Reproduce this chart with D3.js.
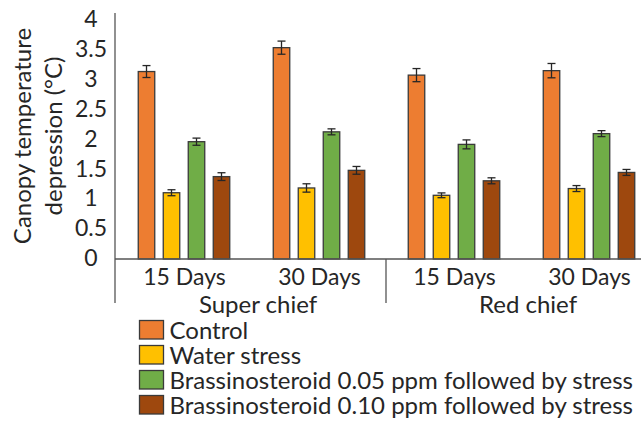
<!DOCTYPE html>
<html>
<head>
<meta charset="utf-8">
<script src="https://cdn.jsdelivr.net/npm/d3@7"></script>
<style>
  body { margin: 0; background: #fff; }
  svg { display: block; font-family: Lato, "Open Sans", sans-serif; }
</style>
</head>
<body>
<div id="chart"></div>
<script>
	var WIDTH = 641;
	var HEIGHT = 421;

	// categories (variety / days after stress)
	var varieties = ["Super chief", "Red chief"];
	var days = ["15 Days", "30 Days"];
	var series = ["Control", "Water stress",
		"Brassinosteroid 0.05 ppm followed by stress",
		"Brassinosteroid 0.10 ppm followed by stress"];
	var colors = ["#ED7D31", "#FFC000", "#70AD47", "#9E480E"];

	// values, order: SC 15, SC 30, RC 15, RC 30
	var control = [3.14, 3.54, 3.08, 3.155];
	var waterStress = [1.11, 1.19, 1.067, 1.18];
	var br005 = [1.965, 2.13, 1.92, 2.10];
	var br010 = [1.38, 1.485, 1.31, 1.45];

	var controlErr = [0.10, 0.11, 0.11, 0.12];
	var waterStressErr = [0.05, 0.07, 0.04, 0.05];
	var br005Err = [0.06, 0.05, 0.075, 0.05];
	var br010Err = [0.065, 0.065, 0.05, 0.05];

	var yTicks = [0, 0.5, 1, 1.5, 2, 2.5, 3, 3.5, 4];

	var values = [control, waterStress, br005, br010];
	var errors = [controlErr, waterStressErr, br005Err, br010Err];

	var groups = [];
	varieties.forEach(function(v){
		days.forEach(function(d){ groups.push(v + "|" + d); });
	});

	var data = [];
	for(var g=0; g<groups.length; g++){
		for(var s=0; s<series.length; s++){
			data.push({group: groups[g], series: series[s], value: values[s][g], err: errors[s][g], color: colors[s]});
		}
	}

	var axisX = 115;
	var baseY = 259;

	var svg = d3.select("#chart").append("svg")
		.attr("width", WIDTH)
		.attr("height", HEIGHT);

	var x0 = d3.scaleBand().domain(groups).range([117, 657]);
	var x1 = d3.scaleBand().domain(series).range([17, 117]);
	var y = d3.scaleLinear().domain([0, 4]).range([baseY, 20.2]);

	var barW = x1.bandwidth() * 0.66;

	// bars
	svg.append("g").selectAll("rect")
		.data(data)
		.enter().append("rect")
		.attr("x", function(d){ return x0(d.group) + x1(d.series) + (x1.bandwidth() - barW)/2; })
		.attr("y", function(d){ return y(d.value); })
		.attr("width", barW)
		.attr("height", function(d){ return baseY - y(d.value); })
		.style("fill", function(d){ return d.color; })
		.style("stroke", "#3a3a3a")
		.style("stroke-width", 1.3);

	// error bars
	var eb = svg.append("g").selectAll("g")
		.data(data)
		.enter().append("g")
		.style("stroke", "#262626")
		.style("stroke-width", 1.3);
	var cx = function(d){ return x0(d.group) + x1(d.series) + x1.bandwidth()/2; };
	eb.append("line")
		.attr("x1", cx).attr("x2", cx)
		.attr("y1", function(d){ return y(d.value + d.err); })
		.attr("y2", function(d){ return y(d.value - d.err); });
	eb.append("line")
		.attr("x1", function(d){ return cx(d) - 4; }).attr("x2", function(d){ return cx(d) + 4; })
		.attr("y1", function(d){ return y(d.value + d.err); })
		.attr("y2", function(d){ return y(d.value + d.err); });
	eb.append("line")
		.attr("x1", function(d){ return cx(d) - 4; }).attr("x2", function(d){ return cx(d) + 4; })
		.attr("y1", function(d){ return y(d.value - d.err); })
		.attr("y2", function(d){ return y(d.value - d.err); });

	// axes lines
	svg.append("line")
		.attr("x1", axisX).attr("x2", axisX)
		.attr("y1", 13).attr("y2", 303)
		.style("stroke", "#555").style("stroke-width", 1.3);
	svg.append("line")
		.attr("x1", axisX).attr("x2", WIDTH)
		.attr("y1", baseY).attr("y2", baseY)
		.style("stroke", "#555").style("stroke-width", 1.3);
	// divider between varieties
	svg.append("line")
		.attr("x1", x0(groups[2]) - 1).attr("x2", x0(groups[2]) - 1)
		.attr("y1", baseY).attr("y2", 303)
		.style("stroke", "#555").style("stroke-width", 1.3);

	// y tick labels
	svg.append("g").selectAll("text")
		.data(yTicks)
		.enter().append("text")
		.attr("x", 91)
		.attr("y", function(d){ return y(d) - 1; })
		.attr("dy", "0.35em")
		.attr("text-anchor", "middle")
		.style("font-size", "23px")
		.style("fill", "#262626")
		.text(function(d){ return d; });

	// y title
	var yt = svg.append("text")
		.attr("transform", "translate(0,136) rotate(-90)")
		.attr("text-anchor", "middle")
		.style("font-size", "24px")
		.style("fill", "#262626");
	yt.append("tspan").attr("x", 0).attr("y", 22.5).attr("dy", "0.35em").text("Canopy temperature");
	yt.append("tspan").attr("x", 0).attr("y", 54).attr("dy", "0.35em").text("depression (°C)");

	// day labels
	svg.append("g").selectAll("text")
		.data(groups)
		.enter().append("text")
		.attr("x", function(d){ return x0(d) + x0.bandwidth()/2; })
		.attr("y", 277)
		.attr("dy", "0.35em")
		.attr("text-anchor", "middle")
		.style("font-size", "23px")
		.style("fill", "#262626")
		.text(function(d){ return d.split("|")[1]; });

	// variety labels
	svg.append("g").selectAll("text")
		.data(varieties)
		.enter().append("text")
		.attr("x", function(d){ return (x0(d + "|" + days[0]) + x0(d + "|" + days[1]) + x0.bandwidth())/2 + 6; })
		.attr("y", 305)
		.attr("dy", "0.35em")
		.attr("text-anchor", "middle")
		.style("font-size", "24px")
		.style("fill", "#262626")
		.text(function(d){ return d; });

	// legend
	var leg = svg.append("g").selectAll("g")
		.data(series)
		.enter().append("g")
		.attr("transform", function(d, i){ return "translate(139.5," + (330 + i*25) + ")"; });
	leg.append("rect")
		.attr("x", 0).attr("y", -9.5)
		.attr("width", 24).attr("height", 18.5)
		.style("fill", function(d, i){ return colors[i]; })
		.style("stroke", "#3a3a3a")
		.style("stroke-width", 1.3);
	leg.append("text")
		.attr("x", 30)
		.attr("y", 9)
		.style("font-size", "24px")
		.style("fill", "#262626")
		.text(function(d){ return d; });
</script>
</body>
</html>
